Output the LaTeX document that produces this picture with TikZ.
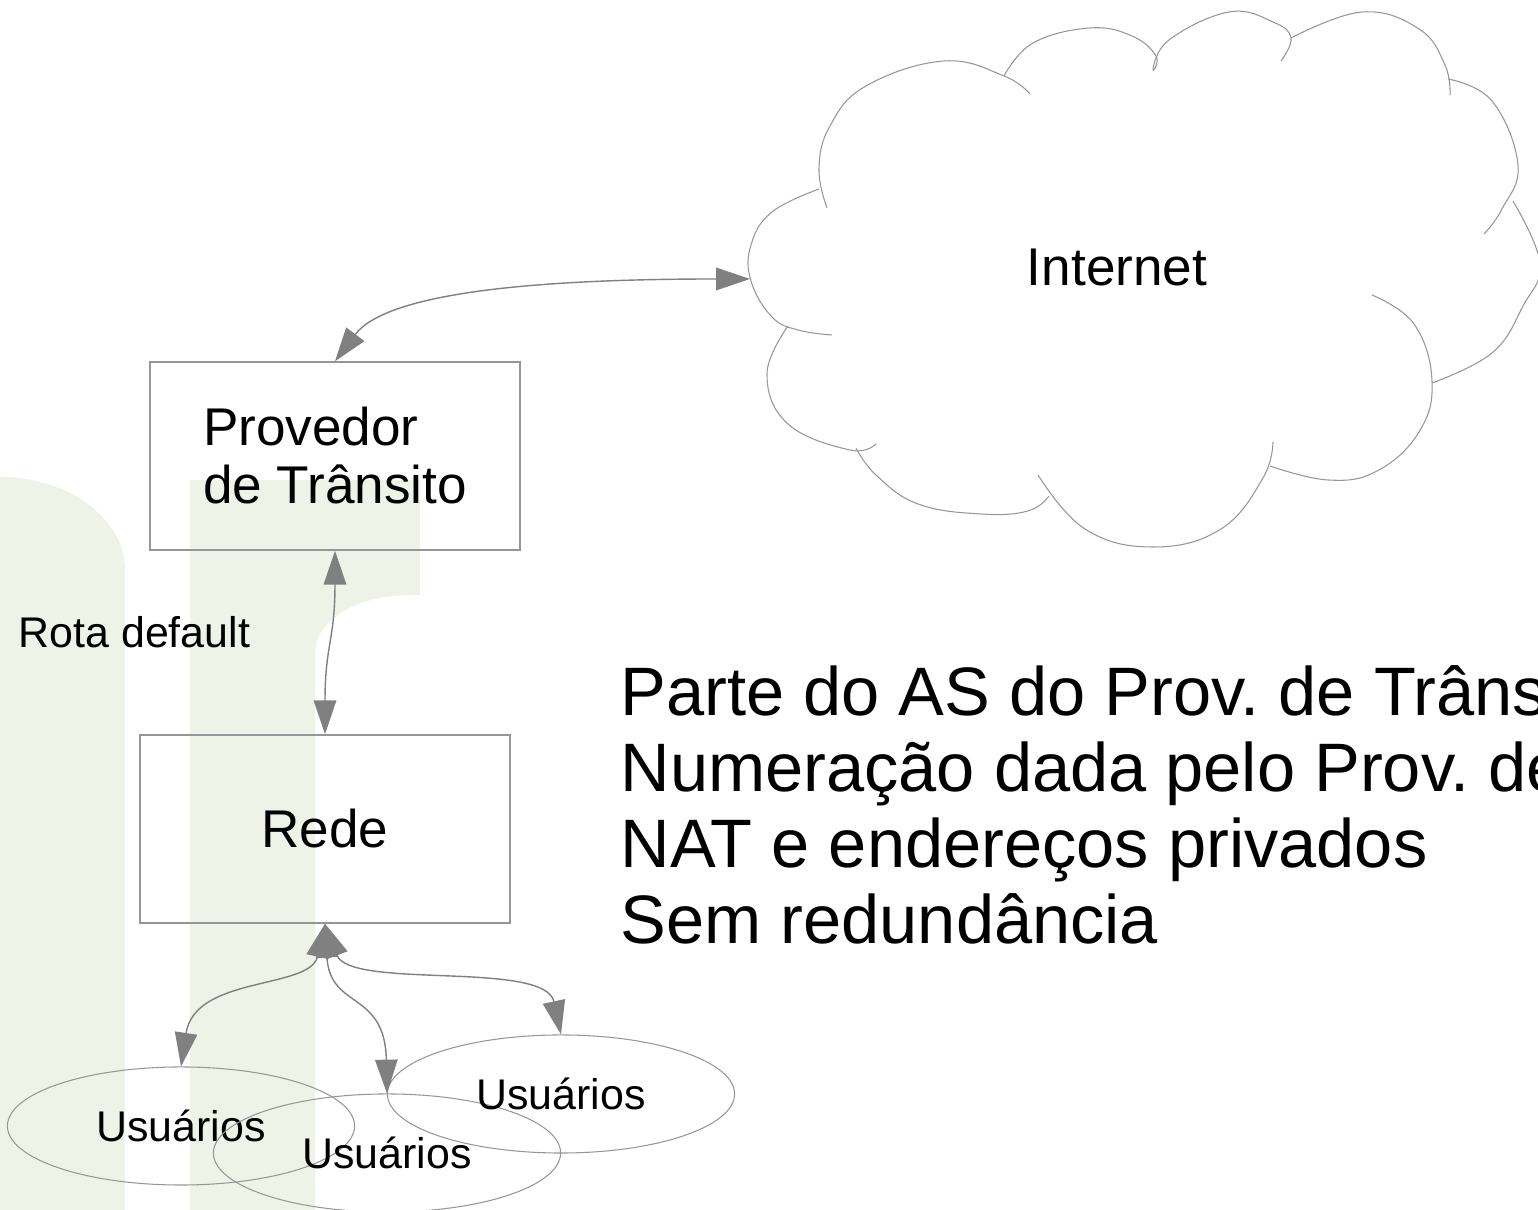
\documentclass[tikz,border=0pt]{standalone}
\usepackage{fontspec}
\setmainfont{Liberation Sans}
\usetikzlibrary{arrows.meta,shapes.geometric}
\frenchspacing

\definecolor{logogreen}{RGB}{239,243,231}
\definecolor{linegray}{RGB}{128,128,128}
\definecolor{boxgray}{RGB}{150,150,150}

\tikzset{
	box/.style={draw=boxgray, line width=0.4pt, minimum width=3.7cm, minimum height=1.88cm, inner sep=0pt, font=\fontsize{15.1}{16.5}\selectfont},
	users/.style={draw=boxgray, line width=0.3pt, ellipse, minimum width=3.47cm, minimum height=1.18cm, inner sep=0pt, font=\fontsize{12.2}{14}\selectfont},
	link/.style={draw=linegray, line width=0.4pt, >={Triangle[length=9.6pt,width=6.4pt]}, <->},
	puff/.style={draw=boxgray, line width=0.3pt},
	bigtext/.style={anchor=base west, inner sep=0pt, font=\fontsize{19.5}{21.6}\selectfont}
}

\begin{document}
\begin{tikzpicture}[x=0.01cm, y=-0.01cm]
	\useasboundingbox (0,0) rectangle (1538,1210);
	\clip (0,0) rectangle (1538,1210);
	% logo in the background
	\fill [logogreen] (0,477) .. controls (69,477) and (125,519) .. (125,570) -- (125,1210) -- (0,1210) -- cycle;
	\fill [logogreen] (190,480) -- (420,480) -- (420,595) .. controls (365,593) and (315,615) .. (315,655) -- (315,1210) -- (190,1210) -- cycle;

	% cloud
	\draw [puff] plot [smooth, tension=0.7] coordinates {(832,335) (798,330) (772,317) (751,281) (751,245) (772,212) (819,189)};
	\draw [puff] plot [smooth, tension=0.7] coordinates {(827,208) (819,169) (830,126) (866,86) (944,61) (1004,76) (1030,94)};
	\draw [puff] plot [smooth, tension=0.7] coordinates {(1004,76) (1033,43) (1090,28) (1132,36) (1156,56) (1153,71)};
	\draw [puff] plot [smooth, tension=0.7] coordinates {(1153,70) (1169,40) (1229,12) (1273,22) (1291,38) (1281,61)};
	\draw [puff] plot [smooth, tension=0.7] coordinates {(1291,38) (1362,12) (1419,29) (1445,65) (1450,95)};
	\draw [puff] plot [smooth, tension=0.7] coordinates {(1448,79) (1492,101) (1518,165) (1502,209) (1484,234)};
	\draw [puff] plot [smooth, tension=0.7] coordinates {(1513,201) (1540,263) (1523,306) (1492,353) (1432,383)};
	\draw [puff] plot [smooth, tension=0.7] coordinates {(1372,295) (1414,324) (1432,381) (1419,432) (1377,471) (1328,480) (1270,466)};
	\draw [puff] plot [smooth, tension=0.7] coordinates {(1273,442) (1263,478) (1221,529) (1153,547) (1085,529) (1038,475)};
	\draw [puff] plot [smooth, tension=0.7] coordinates {(1049,496) (1028,511) (981,514) (918,504) (876,475) (856,448)};
	\draw [puff] plot [smooth, tension=0.7] coordinates {(876,444) (850,450) (788,424) (767,374) (788,326)};
	\node (internet) at (1117,268) {\fontsize{15.1}{16.5}\selectfont Internet};
	\coordinate (cloudwest) at (750,279);

	\node [box, align=left] (prov) at (335,456) {Provedor\\de Trânsito};
	\node [box] (rede) at (325,829) {Rede};
	\node [anchor=base west, inner sep=0pt, font=\fontsize{12.2}{14}\selectfont] (rota) at (18,648) {Rota default};

	\node [users] (uleft) at (181,1126) {Usuários};
	\node [users] (umid) at (387,1153) {Usuários};
	\node [users] (uright) at (561,1094) {Usuários};

	\draw [link] (prov.north) .. controls (385,295) and (520,279) .. (cloudwest);
	\draw [link] (prov.south) .. controls (335,640) and (325,645) .. (rede.north);
	\draw [link] (rede.south) .. controls (310,990) and (195,975) .. (uleft.north);
	\draw [link] (rede.south) .. controls (330,1010) and (385,990) .. (umid.north);
	\draw [link] (rede.south) .. controls (350,990) and (545,960) .. (uright.north);

	\node [bigtext] (parte) at (620,716) {Parte do AS do Prov. de Trânsito};
	\node [bigtext] (numer) at (620,792) {Numeração dada pelo Prov. de Trânsito};
	\node [bigtext] (nat) at (620,868) {NAT e endereços privados};
	\node [bigtext] (sem) at (620,944) {Sem redundância};
\end{tikzpicture}
\end{document}
